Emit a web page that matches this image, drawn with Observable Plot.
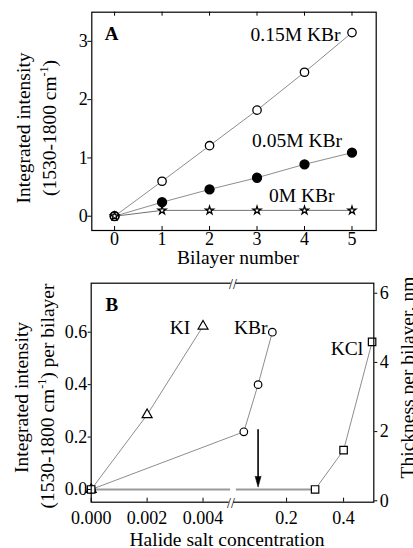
<!DOCTYPE html>
<html><head><meta charset="utf-8">
<script src="https://cdn.jsdelivr.net/npm/d3@7"></script>
<script src="https://cdn.jsdelivr.net/npm/@observablehq/plot@0.6"></script>
<style>
body{margin:0;background:#fff;}
#chart{width:413px;height:548px;overflow:hidden;}
#chart svg{display:block;}
</style></head><body><div id="chart"></div>
<script>
// ---------- Panel A data ----------
const bilayers = [0, 1, 2, 3, 4, 5];
const kbr015 = [0, 0.60, 1.21, 1.82, 2.47, 3.15];
const kbr005 = [0, 0.24, 0.46, 0.66, 0.89, 1.09];
const kbr000 = [0, 0.10, 0.10, 0.10, 0.10, 0.10];
const seriesNamesA = ["0.15M KBr", "0.05M KBr", "0M KBr"];
const yTicksA = [0, 1, 2, 3];

// ---------- Panel B data ----------
const kiConc = [0, 0.002, 0.004];
const kiInt = [0, 0.285, 0.623];
const kbrConc = [0, 0.05, 0.10, 0.15];
const kbrInt = [0, 0.22, 0.40, 0.60];
const kclConc = [0, 0.3, 0.4, 0.5];
const kclInt = [0, 0, 0.15, 0.563];
const saltNames = ["KI", "KBr", "KCl"];
const xTicksB = [0, 0.002, 0.004, 0.2, 0.4];
const yTicksB = [0, 0.2, 0.4, 0.6];
const thicknessTicks = [0, 2, 4, 6];
const axisBreak = 0.005;
const arrowConc = [0.1];
const arrowFrom = 0.228, arrowTo = 0.009;
// secondary axis: intensity = offset + thickness * perUnit
const thicknessOffset = -0.0431, thicknessPerUnit = 0.13196;

const W = 413;
const serif = "'Liberation Serif', 'Times New Roman', serif";
const rows = (xs, ys) => xs.map((x, i) => ({x, y: ys[i]}));
const lineStroke = "#707070";
const last = arr => arr[arr.length - 1];

// ---------------- Panel A ----------------
const aM = {l: 91.3, r: 37.3, t: 11.7, b: 40};
const aH = 270, aFH = aH - aM.t - aM.b;
const A015 = rows(bilayers, kbr015), A005 = rows(bilayers, kbr005), A000 = rows(bilayers, kbr000);

const plotA = Plot.plot({
  width: W, height: aH,
  marginLeft: aM.l, marginRight: aM.r, marginTop: aM.t, marginBottom: aM.b,
  style: {fontFamily: serif, fontSize: "18px", color: "#000", background: "white", overflow: "visible"},
  x: {domain: [-0.48, 5.51], axis: null},
  y: {domain: [-0.245, 3.5], axis: null},
  marks: [
    Plot.line(A015, {x: "x", y: "y", stroke: lineStroke, strokeWidth: 0.8}),
    Plot.line(A005, {x: "x", y: "y", stroke: lineStroke, strokeWidth: 0.8}),
    Plot.line(A000, {x: "x", y: "y", stroke: lineStroke, strokeWidth: 1}),
    Plot.dot(A005, {x: "x", y: "y", r: 4.4, fill: "#000", stroke: "#000"}),
    Plot.dot(A015, {x: "x", y: "y", r: 4.2, fill: "#fff", stroke: "#000", strokeWidth: 1.3}),
    Plot.dot(A000, {x: "x", y: "y", symbol: "star", r: 2.5, fill: "#fff", stroke: "#000", strokeWidth: 1.3}),
    Plot.frame({stroke: "#000", strokeWidth: 1.2}),
    Plot.axisY(yTicksA, {tickSize: 4, tickPadding: 0, label: null, tickFormat: d3.format("d")}),
    Plot.axisX(bilayers, {tickSize: 0, tickPadding: 2, label: null, tickFormat: d3.format("d")}),
    Plot.ruleX(bilayers, {insetTop: aFH - 4, stroke: "#000"}),
    Plot.ruleX(bilayers, {insetBottom: aFH - 4, stroke: "#000"}),
    Plot.text([{x: last(bilayers), y: last(kbr015), t: seriesNamesA[0]}], {x: "x", y: "y", text: "t", textAnchor: "end", lineAnchor: "bottom", dx: -11.5, dy: 8.6, fontSize: 19.5}),
    Plot.text([{x: last(bilayers), y: last(kbr005), t: seriesNamesA[1]}], {x: "x", y: "y", text: "t", textAnchor: "end", lineAnchor: "bottom", dx: -10, dy: -5.4, fontSize: 19.5}),
    Plot.text([{x: last(bilayers), y: last(kbr000), t: seriesNamesA[2]}], {x: "x", y: "y", text: "t", textAnchor: "end", lineAnchor: "bottom", dx: -17.5, dy: -8.2, fontSize: 19.5}),
    Plot.text(["A"], {frameAnchor: "top-left", dx: 13, dy: 14, fontWeight: "bold", fontSize: 19})
  ]
});

// ---------------- Panel B ----------------
const bM = {l: 90.7, r: 39.7, t: 12.7, b: 46.3};
const bH = 278, bFH = bH - bM.t - bM.b;
const KI = rows(kiConc, kiInt), KBR = rows(kbrConc, kbrInt), KCL = rows(kclConc, kclInt);

const plotB = Plot.plot({
  width: W, height: bH,
  marginLeft: bM.l, marginRight: bM.r, marginTop: bM.t, marginBottom: bM.b,
  style: {fontFamily: serif, fontSize: "18px", color: "#000", background: "white", overflow: "visible"},
  x: {type: "linear", domain: [0, axisBreak, 0.506], range: [bM.l, 230.5, W - bM.r], axis: null},
  y: {domain: [-0.0485, 0.787], axis: null},
  marks: [
    Plot.line(KCL.slice(0, 2), {x: "x", y: "y", stroke: "#9a9a9a", strokeWidth: 2}),
    Plot.dot([{x: axisBreak, y: 0}], {x: "x", y: "y", symbol: "square", r: 3.2, fill: "#fff", dx: 2}),
    Plot.line(KI, {x: "x", y: "y", stroke: lineStroke, strokeWidth: 0.8}),
    Plot.line(KBR, {x: "x", y: "y", stroke: lineStroke, strokeWidth: 0.8}),
    Plot.line(KCL.slice(1), {x: "x", y: "y", stroke: lineStroke, strokeWidth: 0.8}),
    Plot.ruleX(arrowConc, {x: d => d, y1: arrowFrom, y2: arrowTo, stroke: "#000", strokeWidth: 1.6, insetBottom: 4}),
    Plot.vector(arrowConc, {x: d => d, y: arrowTo, length: 11, rotate: 180, anchor: "end", shape: "spike", r: 3, fill: "#000", stroke: "#000", strokeWidth: 0.5}),
    Plot.dot(KI, {x: "x", y: "y", symbol: "triangle", r: 3.7, fill: "#fff", stroke: "#000", strokeWidth: 1.2}),
    Plot.dot(KBR, {x: "x", y: "y", r: 3.8, fill: "#fff", stroke: "#000", strokeWidth: 1.2}),
    Plot.dot(KCL, {x: "x", y: "y", symbol: "square", r: 4.2, fill: "#fff", stroke: "#000", strokeWidth: 1.2}),
    Plot.frame({stroke: "#000", strokeWidth: 1.2}),
    // axis break marks
    Plot.dot([axisBreak], {x: d => d, frameAnchor: "top", symbol: "square", r: 2.6, fill: "#fff", dx: 2}),
    Plot.dot([axisBreak], {x: d => d, frameAnchor: "bottom", symbol: "square", r: 2.6, fill: "#fff", dx: 0}),
    Plot.text([axisBreak], {x: d => d, frameAnchor: "top", text: () => "//", lineAnchor: "middle", fontSize: 14, dx: 2, dy: 1}),
    Plot.text([axisBreak], {x: d => d, frameAnchor: "bottom", text: () => "//", lineAnchor: "middle", fontSize: 14, dx: 0, dy: 1}),
    Plot.axisY(yTicksB, {tickSize: 3, tickPadding: 1, tickFormat: d3.format(".1f"), label: null}),
    Plot.axisY(thicknessTicks.map(t => thicknessOffset + t * thicknessPerUnit), {
      anchor: "right", tickSize: 3, tickPadding: 3, label: null,
      tickFormat: v => String(Math.round((v - thicknessOffset) / thicknessPerUnit))
    }),
    Plot.axisX(xTicksB, {tickSize: 0, tickPadding: 9, label: null, tickFormat: d => d < 0.01 ? d.toFixed(3) : d.toFixed(1)}),
    Plot.ruleX(xTicksB, {insetTop: bFH - 4, stroke: "#000"}),
    Plot.text([{...last(KI), t: saltNames[0]}], {x: "x", y: "y", text: "t", textAnchor: "end", lineAnchor: "bottom", dx: -12.7, dy: 7.6, fontSize: 19.5}),
    Plot.text([{...last(KBR), t: saltNames[1]}], {x: "x", y: "y", text: "t", textAnchor: "end", lineAnchor: "bottom", dx: -4.8, dy: 1.6, fontSize: 19.5}),
    Plot.text([{...last(KCL), t: saltNames[2]}], {x: "x", y: "y", text: "t", textAnchor: "end", lineAnchor: "bottom", dx: -8.9, dy: 12.9, fontSize: 19.5}),
    Plot.text(["B"], {frameAnchor: "top-left", dx: 14.3, dy: 14, fontWeight: "bold", fontSize: 19})
  ]
});

// ---------- axis titles ----------
function rotTitle(svg, x, y, parts) {
  const t = d3.select(svg).append("text")
    .attr("transform", `translate(${x},${y}) rotate(-90)`)
    .attr("text-anchor", "middle")
    .style("font-family", serif).style("font-size", "19.5px").attr("fill", "#000");
  for (const p of parts) {
    const s = t.append("tspan").text(p.text);
    if (p.sup) s.style("font-size", "12px").attr("dy", -8);
    if (p.after) s.attr("dy", 8);
  }
  return t;
}
function hTitle(svg, x, y, text) {
  d3.select(svg).append("text").attr("x", x).attr("y", y).attr("text-anchor", "middle")
    .style("font-family", serif).style("font-size", "19.5px").attr("fill", "#000").text(text);
}
rotTitle(plotA, 29.5, 128, [{text: "Integrated intensity"}]);
rotTitle(plotA, 56, 128, [{text: "(1530-1800 cm"}, {text: "-1", sup: true}, {text: ")", after: true}]);
hTitle(plotA, 238, 263.5, "Bilayer number");

rotTitle(plotB, 28.3, 127.5, [{text: "Integrated intensity"}]);
rotTitle(plotB, 53.5, 126, [{text: "(1530-1800 cm"}, {text: "-1", sup: true}, {text: ") per bilayer", after: true}]);
rotTitle(plotB, 414, 107.5, [{text: "Thickness per bilayer, nm"}]);
hTitle(plotB, 227, 276, "Halide salt concentration");

const chart = document.getElementById("chart");
chart.appendChild(plotA);
chart.appendChild(plotB);
</script>
</body></html>
